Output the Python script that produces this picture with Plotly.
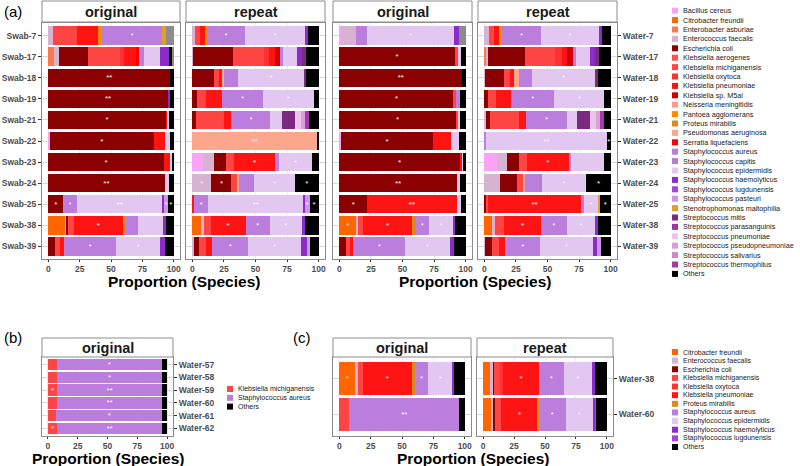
import plotly.graph_objects as go

W, H = 800, 466
FONT = "Liberation Sans, Arial, sans-serif"

SPECIES = [
    "Bacillus cereus", "Citrobacter freundii", "Enterobacter asburiae", "Enterococcus faecalis",
    "Escherichia coli", "Klebsiella aerogenes", "Klebsiella michiganensis", "Klebsiella oxytoca",
    "Klebsiella pneumoniae", "Klebsiella sp. M5al", "Neisseria meningitidis", "Pantoea agglomerans",
    "Proteus mirabilis", "Pseudomonas aeruginosa", "Serratia liquefaciens", "Staphylococcus aureus",
    "Staphylococcus capitis", "Staphylococcus epidermidis", "Staphylococcus haemolyticus",
    "Staphylococcus lugdunensis", "Staphylococcus pasteuri", "Stenotrophomonas maltophilia",
    "Streptococcus mitis", "Streptococcus parasanguinis", "Streptococcus pneumoniae",
    "Streptococcus pseudopneumoniae", "Streptococcus salivarius", "Streptococcus thermophilus", "Others",
]
COLORS = [
    "#F9A3F7", "#FF6600", "#F97850", "#D8B2D1", "#8B0000", "#FF5050", "#FF4444", "#FF3030",
    "#FF1414", "#D40000", "#FA9E8A", "#FF8C00", "#DA8A1F", "#FCA68E", "#FF0000", "#BB7EDC",
    "#AF7FCC", "#E2C7F0", "#8B2CC8", "#A444D8", "#CE94EA", "#E0A024", "#7B2A80", "#9B35A8",
    "#EAC4EA", "#DA9EDC", "#C98ACD", "#A23AA8", "#000000",
]
NA_NAME, NA_COLOR = "NA", "#8C8C8C"
COLOR_OF = dict(zip(SPECIES, COLORS))
COLOR_OF[NA_NAME] = NA_COLOR

swab_rows = ["Swab-7", "Swab-17", "Swab-18", "Swab-19", "Swab-21", "Swab-22", "Swab-23",
             "Swab-24", "Swab-25", "Swab-38", "Swab-39"]
water_rows = ["Water-7", "Water-17", "Water-18", "Water-19", "Water-21", "Water-22", "Water-23",
              "Water-24", "Water-25", "Water-38", "Water-39"]
b_rows = ["Water-57", "Water-58", "Water-59", "Water-60", "Water-61", "Water-62"]
c_rows = ["Water-38", "Water-60"]

# ---- panel (a) swab original ----
swab_original = {
    "Bacillus cereus":            [0, 0, 0, 0, 0, 1.3, 0, 0, 0, 0, 0],
    "Citrobacter freundii":       [0, 0, 0, 0, 0, 0, 0, 0, 0, 13.9, 0],
    "Enterobacter asburiae":      [0, 4.8, 0, 0, 0, 0, 0, 0, 0, 0, 0],
    "Enterococcus faecalis":      [3.5, 3.7, 0, 0, 0, 0, 0, 0, 0, 0.8, 0],
    "Escherichia coli":           [0, 23.5, 97.3, 95.2, 93.9, 82.7, 92, 92.8, 12, 1.3, 5.3],
    "Klebsiella michiganensis":   [19.2, 24.8, 0, 0, 0, 0, 0, 0, 0, 4.5, 4],
    "Klebsiella oxytoca":         [0, 3.2, 0, 0, 0, 0, 0, 0, 0, 0, 0],
    "Klebsiella pneumoniae":      [16.8, 10.7, 0, 0, 1.3, 8.8, 4.8, 0, 0, 38.9, 3.2],
    "Pantoea agglomerans":        [3.2, 0, 0, 0, 0, 0, 0, 0, 0, 0, 0],
    "Proteus mirabilis":          [0, 0, 0, 0, 0, 0, 0, 0, 0, 2.4, 0],
    "Serratia liquefaciens":      [0, 1.3, 0, 0, 0, 0, 0, 0, 0, 0, 0],
    "Staphylococcus aureus":      [48, 4.5, 0, 0, 0, 0, 0, 0, 10.7, 10.1, 41.6],
    "Staphylococcus epidermidis": [0, 12.8, 0, 0, 0.8, 4.5, 1.9, 3.2, 68.5, 19.5, 35.2],
    "Staphylococcus haemolyticus":[0, 6.7, 0, 1.6, 0, 0, 0, 0, 1.3, 2.4, 4],
    "Staphylococcus pasteuri":    [0, 0, 0, 0, 0, 0, 0, 0, 2.9, 0, 0],
    "Stenotrophomonas maltophilia":[2.9, 0, 0, 0, 0, 0, 0, 0, 0, 0, 0],
    "Others":                     [0, 2.7, 2.7, 3.2, 4, 2.7, 1.3, 4, 4.5, 6.1, 6.7],
    "NA":                         [6.4, 1.3, 0, 0, 0, 0, 0, 0, 0, 0, 0],
}
swab_original_stars = {
    "Escherichia coli":           ["", "", "**", "**", "*", "*", "*", "**", "*", "", ""],
    "Klebsiella pneumoniae":      ["", "", "", "", "", "", "", "", "", "*", ""],
    "Staphylococcus aureus":      ["*", "", "", "", "", "", "", "", "*", "", "*"],
    "Staphylococcus epidermidis": ["", "", "", "", "", "", "", "", "**", "", "*"],
    "Staphylococcus pasteuri":    ["", "", "", "", "", "", "", "", "*", "", ""],
    "Others":                     ["", "", "", "", "", "", "", "", "*", "", ""],
}

# ---- panel (a) swab repeat ----
swab_repeat = {
    "Bacillus cereus":            [0, 0, 0, 0, 0, 0, 8.5, 0, 0, 0, 0],
    "Citrobacter freundii":       [0, 0, 0, 0, 0, 0, 0, 0, 0, 7.2, 0],
    "Enterococcus faecalis":      [2.4, 0.5, 0, 0, 0, 0, 8.8, 15.1, 0, 1.9, 1],
    "Escherichia coli":           [0, 31.3, 17, 3.7, 3.2, 0, 9.3, 15.9, 0, 0, 4.2],
    "Klebsiella michiganensis":   [3.4, 25, 4, 6.9, 22, 0, 6.4, 4, 0, 5.3, 5.3],
    "Klebsiella oxytoca":         [0, 4.2, 0, 0, 0, 0, 0, 0, 0, 0, 0],
    "Klebsiella pneumoniae":      [4, 4.5, 2.1, 12.5, 5.8, 0, 32.6, 0, 1.3, 27.9, 5.3],
    "Klebsiella sp. M5al":        [0, 4, 0, 0, 0, 0, 0, 0, 0, 0, 0],
    "Pantoea agglomerans":        [1.9, 0, 0, 0, 0, 0, 0, 0, 0, 0, 0],
    "Pseudomonas aeruginosa":     [0, 0, 1.9, 0, 0, 98.7, 0, 2.1, 0, 0, 0],
    "Staphylococcus aureus":      [30, 2.1, 10.9, 33.2, 30.8, 0, 2.7, 11.1, 11.1, 18.8, 28.4],
    "Staphylococcus capitis":     [0, 0, 0, 0, 0, 0, 0, 0.8, 0, 0, 0],
    "Staphylococcus epidermidis": [47.7, 11.1, 53, 39.8, 9, 0, 26.5, 32.4, 75.6, 25.7, 41.9],
    "Staphylococcus haemolyticus":[1.9, 4, 0, 0, 0, 0, 0, 0, 0.8, 2.7, 4.5],
    "Staphylococcus pasteuri":    [0, 0, 0, 0, 0, 0, 0, 0, 4, 0, 2.7],
    "Streptococcus mitis":        [0, 3.4, 1.3, 0, 10.1, 0, 0, 0, 0, 0, 0],
    "Streptococcus pneumoniae":   [0, 0, 0, 0, 4.8, 0, 0, 0, 0, 0, 0],
    "Streptococcus pseudopneumoniae": [0, 0, 0, 0, 3.2, 0, 0, 0, 0, 0, 0],
    "Streptococcus thermophilus": [0, 0, 0, 0, 3.4, 0, 0, 0, 0, 0, 0],
    "Others":                     [8.8, 9.8, 9.8, 4, 7.7, 1.3, 5.3, 18.6, 7.2, 10.6, 6.6],
}
swab_repeat_stars = {
    "Enterococcus faecalis":      ["", "", "", "", "", "", "", "*", "", "", ""],
    "Escherichia coli":           ["", "", "", "", "", "", "", "*", "", "", ""],
    "Klebsiella pneumoniae":      ["", "", "", "", "", "", "*", "", "", "*", ""],
    "Pseudomonas aeruginosa":     ["", "", "", "", "", "**", "", "", "", "", ""],
    "Staphylococcus aureus":      ["*", "", "", "*", "*", "", "", "", "*", "*", "*"],
    "Staphylococcus epidermidis": ["*", "", "*", "*", "", "", "*", "*", "**", "*", "*"],
    "Staphylococcus pasteuri":    ["", "", "", "", "", "", "", "", "*", "", ""],
    "Others":                     ["", "", "", "", "", "", "", "*", "*", "", ""],
}

# ---- panel (a) water original ----
water_original = {
    "Bacillus cereus":            [1.3, 0, 0, 0, 0, 1.6, 0, 0, 0, 0, 0],
    "Citrobacter freundii":       [0, 0, 0, 0, 0, 0, 0, 0, 0, 13.5, 0],
    "Enterococcus faecalis":      [11.9, 0, 0, 0, 0, 0, 0, 0, 0, 1.3, 0],
    "Escherichia coli":           [0, 91.5, 97.4, 90.7, 92, 72.5, 95.5, 92.9, 22, 0, 5.3],
    "Klebsiella michiganensis":   [0, 3.2, 0, 1.3, 2.1, 0, 0, 0, 0, 4, 2.9],
    "Klebsiella pneumoniae":      [0, 0, 0, 0, 0, 14, 1.9, 0, 70.9, 38.9, 2.6],
    "Proteus mirabilis":          [0, 0, 0, 0, 0, 0, 0, 0, 0, 2.6, 0],
    "Staphylococcus aureus":      [8.7, 0, 0, 3.2, 0, 0, 0, 0, 0, 10.6, 41.5],
    "Staphylococcus epidermidis": [68.8, 1.3, 0, 0, 1.1, 6.6, 0.8, 2.6, 3.7, 19.3, 35.2],
    "Staphylococcus haemolyticus":[4, 0, 0, 0, 0, 0, 0, 0, 0, 1.1, 3.2],
    "Others":                     [0, 4, 2.6, 4.8, 4.8, 5.3, 1.9, 4.5, 3.4, 8.7, 9.3],
    "NA":                         [5.3, 0, 0, 0, 0, 0, 0, 0, 0, 0, 0],
}
water_original_stars = {
    "Citrobacter freundii":       ["", "", "", "", "", "", "", "", "", "*", ""],
    "Escherichia coli":           ["", "*", "**", "*", "*", "*", "*", "**", "*", "", ""],
    "Klebsiella pneumoniae":      ["", "", "", "", "", "", "", "", "**", "*", ""],
    "Staphylococcus aureus":      ["", "", "", "", "", "", "", "", "", "*", "*"],
    "Staphylococcus epidermidis": ["*", "", "", "", "", "", "", "", "", "*", "*"],
}

# ---- panel (a) water repeat ----
water_repeat = {
    "Bacillus cereus":            [0, 0, 0, 0, 0, 0, 9.8, 0, 0, 0, 0],
    "Citrobacter freundii":       [0, 0, 0, 0, 0, 0, 0, 0, 0, 6.1, 0],
    "Enterobacter asburiae":      [0, 1.9, 0, 0, 0, 0, 0, 0, 0, 0, 0],
    "Enterococcus faecalis":      [3.4, 0.8, 0.8, 0, 1.3, 0, 8.2, 12.4, 0, 2.4, 0.8],
    "Escherichia coli":           [0, 29.6, 15.1, 2.6, 3.2, 0, 9.3, 13.2, 1.9, 0, 5],
    "Klebsiella michiganensis":   [4, 23.3, 4.8, 6.6, 22.8, 0, 6.3, 5.6, 0.8, 7.4, 5.6],
    "Klebsiella oxytoca":         [0, 5.8, 0, 0, 0, 0, 0, 0, 0, 0, 0],
    "Klebsiella pneumoniae":      [4.5, 4.2, 2.6, 11.9, 5.8, 0, 33.1, 0, 74.1, 28.6, 5.3],
    "Klebsiella sp. M5al":        [0, 4.5, 0, 0, 0, 0, 0, 0, 0, 0, 0],
    "Pantoea agglomerans":        [2.1, 0, 0, 0, 0, 0, 0, 0, 0, 0, 0],
    "Pseudomonas aeruginosa":     [0, 0, 4.5, 0, 0, 0, 0, 1.3, 0, 0, 0],
    "Staphylococcus aureus":      [31, 2.1, 10.1, 34.4, 32.5, 1.3, 2.1, 11.1, 1.9, 20.9, 27.5],
    "Staphylococcus capitis":     [0, 0, 0, 0, 0, 0, 0, 1.9, 0, 0, 0],
    "Staphylococcus epidermidis": [45.8, 11.1, 49.5, 39.2, 7.9, 95.8, 25.9, 35.2, 11.4, 22, 41.8],
    "Staphylococcus haemolyticus":[2.6, 4, 0, 0, 0, 0, 0, 0, 0, 2.6, 3.4],
    "Staphylococcus pasteuri":    [0, 0, 0, 0, 0, 0, 0, 0, 0, 0, 2.6],
    "Stenotrophomonas maltophilia":[0, 0, 0, 0, 0, 0, 0, 0, 1.3, 0, 0],
    "Streptococcus mitis":        [0, 3.4, 2.6, 0, 10.3, 0, 0, 0, 0, 0, 0],
    "Streptococcus pneumoniae":   [0, 0, 0, 0, 4.8, 0, 0, 0, 0, 0, 0],
    "Streptococcus pseudopneumoniae": [0, 0, 0, 0, 2.6, 0, 0, 0, 0, 0, 0],
    "Streptococcus thermophilus": [0, 0, 0, 0, 3.4, 0, 0, 0, 0, 0, 0],
    "Others":                     [6.6, 9.3, 10, 5.3, 5.3, 2.9, 5.3, 19.3, 8.7, 10, 7.9],
}
water_repeat_stars = {
    "Klebsiella pneumoniae":      ["", "", "", "", "", "", "*", "", "**", "*", ""],
    "Staphylococcus aureus":      ["*", "", "", "*", "*", "", "", "", "", "*", "*"],
    "Staphylococcus epidermidis": ["*", "", "*", "*", "", "**", "", "*", "*", "*", "*"],
    "Others":                     ["", "", "", "", "", "*", "", "*", "*", "", ""],
}

# ---- panel (b) ----
b_original = {
    "Klebsiella michiganensis": [7.6, 7.6, 7.9, 7.9, 7.1, 7.9],
    "Staphylococcus aureus":    [87.9, 88.1, 87.6, 87.6, 88.9, 87.6],
    "Others":                   [4.5, 4.3, 4.5, 4.5, 4.0, 4.5],
}
b_original_stars = {
    "Klebsiella michiganensis": ["", "", "*", "", "", "*"],
    "Staphylococcus aureus":    ["*", "*", "**", "**", "*", "**"],
}

# ---- panel (c) ----
c_original = {
    "Citrobacter freundii":       [12.9, 0],
    "Enterococcus faecalis":      [1.9, 0],
    "Klebsiella michiganensis":   [4, 8],
    "Klebsiella pneumoniae":      [39.1, 0],
    "Proteus mirabilis":          [2.4, 0],
    "Staphylococcus aureus":      [10.7, 87.7],
    "Staphylococcus epidermidis": [19.3, 0],
    "Staphylococcus haemolyticus":[1.1, 0],
    "Others":                     [8.6, 4.3],
}
c_original_stars = {
    "Citrobacter freundii":       ["*", ""],
    "Klebsiella pneumoniae":      ["*", ""],
    "Staphylococcus aureus":      ["*", "**"],
    "Staphylococcus epidermidis": ["*", ""],
}
c_repeat = {
    "Citrobacter freundii":       [5.9, 6.7],
    "Enterococcus faecalis":      [2.1, 1.9],
    "Escherichia coli":           [1.1, 1.1],
    "Klebsiella michiganensis":   [4.5, 4.8],
    "Klebsiella oxytoca":         [2.5, 0],
    "Klebsiella pneumoniae":      [28.9, 29.7],
    "Proteus mirabilis":          [0, 1.1],
    "Staphylococcus aureus":      [20.3, 21.4],
    "Staphylococcus epidermidis": [22.7, 21.9],
    "Staphylococcus haemolyticus":[2.4, 1.9],
    "Staphylococcus lugdunensis": [0, 0.8],
    "Others":                     [9.6, 8.8],
}
c_repeat_stars = {
    "Klebsiella pneumoniae":      ["*", "*"],
    "Staphylococcus aureus":      ["*", "*"],
    "Staphylococcus epidermidis": ["*", "*"],
}

legend_a = SPECIES
legend_b = ["Klebsiella michiganensis", "Staphylococcus aureus", "Others"]
legend_c = ["Citrobacter freundii", "Enterococcus faecalis", "Escherichia coli",
            "Klebsiella michiganensis", "Klebsiella oxytoca", "Klebsiella pneumoniae",
            "Proteus mirabilis", "Staphylococcus aureus", "Staphylococcus epidermidis",
            "Staphylococcus haemolyticus", "Staphylococcus lugdunensis", "Others"]

fig = go.Figure()
shapes = []
annotations = []


def add_panel(ax, rows, values, stars, width):
    for sp in SPECIES + [NA_NAME]:
        if sp not in values:
            continue
        txt = stars.get(sp, [""] * len(rows))
        fig.add_trace(go.Bar(
            y=rows, x=values[sp], orientation="h", xaxis="x" + ax, yaxis="y" + ax,
            marker=dict(color=COLOR_OF[sp], line=dict(width=0)), width=width,
            text=txt, textposition="inside", insidetextanchor="middle", textangle=0,
            constraintext="none", textfont=dict(color="#F4F4F4", size=8, family=FONT),
            showlegend=False, hoverinfo="skip", name=sp,
        ))


add_panel("1", swab_rows, swab_original, swab_original_stars, 0.88)
add_panel("2", swab_rows, swab_repeat, swab_repeat_stars, 0.88)
add_panel("3", water_rows, water_original, water_original_stars, 0.88)
add_panel("4", water_rows, water_repeat, water_repeat_stars, 0.88)
add_panel("5", b_rows, b_original, b_original_stars, 0.9)
add_panel("6", c_rows, c_original, c_original_stars, 0.9)
add_panel("7", c_rows, c_repeat, c_repeat_stars, 0.9)


def add_legend(ax, names, size):
    fig.add_trace(go.Scatter(
        x=[0] * len(names), y=list(range(len(names))), xaxis="x" + ax, yaxis="y" + ax,
        mode="markers", marker=dict(symbol="square", size=6, color=[COLOR_OF[n] for n in names],
                                    line=dict(width=0)),
        showlegend=False, hoverinfo="skip", cliponaxis=False,
    ))
    for i, n in enumerate(names):
        annotations.append(dict(xref="x" + ax, yref="y" + ax, x=0, y=i, text=n,
                                showarrow=False, xanchor="left", yanchor="middle", xshift=6,
                                font=dict(size=size, color="#1A1A1A", family=FONT)))


add_legend("8", legend_a, 7.2)
add_legend("9", legend_b, 7)
add_legend("10", legend_c, 7)

TICKFONT = dict(size=8.5, color="#4D4D4D", family=FONT, weight="bold")
LINE = "#8C8C8C"


def xaxis(left, right, anchor):
    return dict(domain=[left / W, right / W], anchor=anchor, range=[-5, 105],
                tickvals=[0, 25, 50, 75, 100], ticks="outside", ticklen=2, tickwidth=1,
                tickcolor="#333333", tickfont=TICKFONT, showline=True, mirror=True,
                linecolor=LINE, linewidth=1, showgrid=True, gridcolor="#EBEBEB",
                gridwidth=0.6, zeroline=False, fixedrange=True)


def yaxis(top, bottom, anchor, rows, side=None, labels=True):
    d = dict(domain=[1 - bottom / H, 1 - top / H], anchor=anchor, type="category",
             categoryorder="array", categoryarray=rows,
             range=[len(rows) - 0.4, -0.6], showticklabels=labels,
             ticks="outside" if labels else "", ticklen=3, tickwidth=1, tickcolor="#333333",
             tickfont=TICKFONT, showline=True, mirror=True, linecolor=LINE, linewidth=1,
             showgrid=True, gridcolor="#D9D9D9", gridwidth=0.6, zeroline=False,
             fixedrange=True)
    if side:
        d["side"] = side
    return d


A_TOP, A_BOT = 23, 259
BC_TOP, BC_BOT = 357, 436
layout = dict(
    width=W, height=H, margin=dict(l=0, r=0, t=0, b=0),
    paper_bgcolor="white", plot_bgcolor="white", barmode="stack",
    font=dict(family=FONT), showlegend=False,
    xaxis=xaxis(42, 180, "y"), yaxis=yaxis(A_TOP, A_BOT, "x", swab_rows),
    xaxis2=xaxis(186, 325, "y2"), yaxis2=yaxis(A_TOP, A_BOT, "x2", swab_rows, labels=False),
    xaxis3=xaxis(333, 472, "y3"), yaxis3=yaxis(A_TOP, A_BOT, "x3", water_rows, labels=False),
    xaxis4=xaxis(478, 617, "y4"), yaxis4=yaxis(A_TOP, A_BOT, "x4", water_rows, side="right"),
    xaxis5=xaxis(42, 173, "y5"), yaxis5=yaxis(BC_TOP, BC_BOT, "x5", b_rows, side="right"),
    xaxis6=xaxis(333, 471, "y6"), yaxis6=yaxis(BC_TOP, BC_BOT, "x6", c_rows, labels=False),
    xaxis7=xaxis(477, 613, "y7"), yaxis7=yaxis(BC_TOP, BC_BOT, "x7", c_rows, side="right"),
)
# legend axes
for ax, (l, r, t, b, n, xr) in {
    "8": (670, 800, 10.7 - 4.7, 10.7 + 28 * 9.4 + 4.7, len(legend_a), [-5, 125]),
    "9": (220, 330, 389 - 4.4, 406.6 + 4.4, len(legend_b), [-10, 100]),
    "10": (670, 800, 352 - 4.3, 447 + 4.3, len(legend_c), [-5, 125]),
}.items():
    layout["xaxis" + ax] = dict(domain=[l / W, r / W], anchor="y" + ax, range=xr,
                                visible=False, fixedrange=True)
    layout["yaxis" + ax] = dict(domain=[1 - b / H, 1 - t / H], anchor="x" + ax,
                                range=[n - 0.5, -0.5], visible=False, fixedrange=True)


def strip(left, right, top, bottom, label):
    shapes.append(dict(type="rect", xref="paper", yref="paper", x0=left / W, x1=right / W,
                       y0=1 - bottom / H, y1=1 - top / H, line=dict(color=LINE, width=1),
                       fillcolor="white", layer="above"))
    annotations.append(dict(xref="paper", yref="paper", x=(left + right) / 2 / W,
                            y=1 - (top + bottom) / 2 / H, text=label, showarrow=False,
                            xanchor="center", yanchor="middle",
                            font=dict(size=14.5, color="#1A1A1A", family=FONT, weight="bold")))


strip(42, 180, 1, 22, "original")
strip(186, 325, 1, 22, "repeat")
strip(333, 472, 1, 22, "original")
strip(478, 617, 1, 22, "repeat")
strip(42, 173, 338, 357, "original")
strip(333, 471, 338, 357, "original")
strip(477, 613, 338, 357, "repeat")


def text(x, y, s, size, bold=False):
    annotations.append(dict(xref="paper", yref="paper", x=x / W, y=1 - y / H, text=s,
                            showarrow=False, xanchor="center", yanchor="middle",
                            font=dict(size=size, color="black", family=FONT,
                                      weight="bold" if bold else "normal")))


for cx, cy in [(183.5, 281), (475, 281), (107.5, 458), (473, 458)]:
    text(cx, cy, "Proportion (Species)", 15.5, bold=True)
text(13, 12, "(a)", 15)
text(13, 337, "(b)", 15)
text(302, 337, "(c)", 15)

layout["shapes"] = shapes
layout["annotations"] = annotations
fig.update_layout(**layout)
fig.write_html("out.html")
